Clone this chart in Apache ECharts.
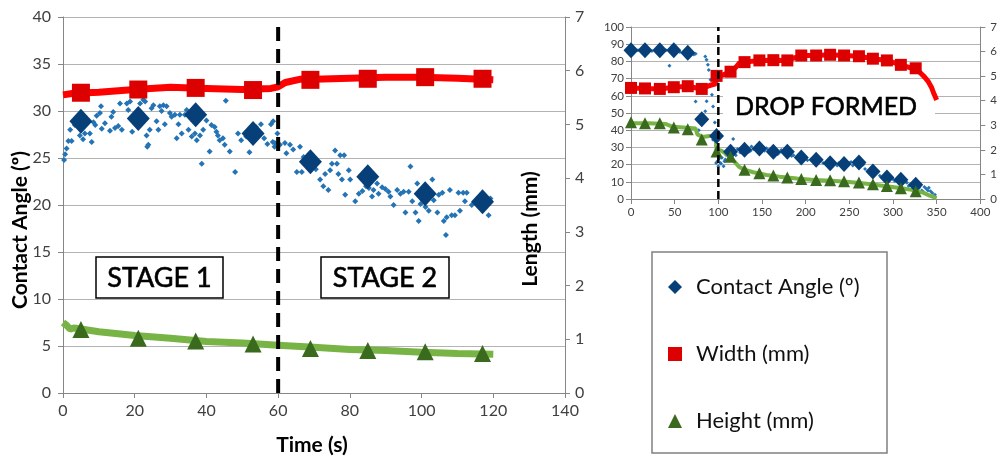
<!DOCTYPE html>
<html><head><meta charset="utf-8">
<script src="https://cdn.jsdelivr.net/npm/echarts@6/dist/echarts.min.js"></script>
<style>html,body{margin:0;padding:0;background:#fff}#c{width:1000px;height:460px}</style>
</head><body><div id="c"></div>
<script>
// ---------- LEFT CHART (stage 1 / stage 2) ----------
const rawTimeL = [0.3,0.6,1,1.5,2,2.4,3.3,4.7,5.6,6.1,7.5,8,8.5,9,9.4,10.3,10.6,10.8,11.7,13.1,13.5,14,14.5,15.4,15.9,16.4,17.8,18.2,18.7,19.3,21.5,22.4,22.9,23.3,23.5,23.8,24.2,24.7,25.2,26.1,26.6,27,27.5,28,28.4,28.9,29.8,30.3,31.2,31.7,32.2,32.6,33.1,34,34.5,35,35.9,36.8,37.3,38.2,38.7,39.1,40,40.9,41.4,42.3,42.8,43.2,43.7,44.6,45.1,45.4,46.5,48,48.8,49.7,51.1,52,53.8,54.7,55.2,56.1,57,58,58.5,58.6,59,59.1,59.8,60.5,61.9,62.3,63.3,64.2,65.2,66.1,66.6,67.1,68,69.5,70.5,71.7,72.6,73.1,74,74.5,75,75.9,76.4,76.8,77.3,77.8,78.4,78.7,79.7,80.1,81.5,82.5,83.5,84.5,85.3,86.2,86.6,87.6,88,89,89.9,90.8,91.3,92.2,93.2,94.1,95,95.5,96.4,96.9,97.4,98.3,98.8,99.2,99.7,101.1,102,103,103.4,104.4,104.8,105.8,106.2,106.8,107,107.9,108.4,109.3,110.3,110.7,111.6,112.1,112.6,114,117.3,118.3,118.7,119.2];
const rawAngleL = [24.8,25.4,26,26.8,28,26.8,28.5,27.4,27,27.6,27.6,26.7,28.8,28.5,29.5,29.8,30.5,28.1,28.7,27.9,29.4,29.9,28.2,28.4,30.8,28,30.8,30.1,31,27.8,30.8,31.2,31,27.4,26.2,26.4,28,30.3,30.6,28.9,28,30.5,30,30.6,28.6,30.5,29.8,29.4,29.6,27.1,28.6,29.6,27.6,29.6,30.1,28,27.3,27.6,26.9,27.4,24.4,28,29,25.7,28.5,28.3,27.8,27.4,26.9,27.1,26.4,31.1,25.7,23.5,27.6,26.9,27.3,25.6,28.3,27.4,28.6,27.1,26.5,28.6,26.7,28.9,26.2,26.6,27.6,26.4,26.6,25.5,26.4,25.9,23.5,26.2,23.5,25.1,24.8,24.2,23.8,22.7,22,23.3,21.6,23.7,24.4,25.8,24.4,23.3,25.3,22.7,25.3,21.1,23.7,22.7,20.4,21.2,21.5,22,21.8,20.9,21.6,22.3,21.2,21.9,21.7,21.4,20.9,20,21.6,21.2,21.4,19.2,21.4,24.1,20.4,19.2,22.3,18.3,20.1,19.8,19.4,22.7,20.5,19.2,21.1,21.3,18.3,16.8,18.7,21.6,18.9,18.9,21.3,19.4,21.3,20.4,21.3,20,20.9,20.4,18.9,20.7];
const markTimeL = [5,21,37,53,69,85,101,117];
const markAngleL = [28.9,29.2,29.6,27.6,24.6,23.0,21.2,20.35];
const markWidthL = [5.59,5.65,5.68,5.64,5.83,5.85,5.88,5.85];
const markHeightL = [1.18,1.02,0.97,0.91,0.83,0.79,0.77,0.735];
const widthLineTimeL = [0,3,10,20,30,40,50,58,60,62,66,70,80,90,100,110,120];
const widthLineL = [5.55,5.58,5.6,5.65,5.69,5.67,5.65,5.67,5.7,5.78,5.84,5.84,5.86,5.88,5.88,5.86,5.83];
const heightLineTimeL = [0,1,2,3,5,10,20,30,40,50,60,70,80,90,100,110,120];
const heightLineL = [1.31,1.26,1.19,1.21,1.19,1.14,1.07,1.02,0.96,0.93,0.89,0.85,0.81,0.79,0.76,0.735,0.72];
const stageBoundaryL = 60;

// ---------- RIGHT CHART (drop formed) ----------
const rawTimeR = [2,5,8,12,20,24,28,37,40,44,45,53,56,60,69,72,74,74,77.6,77.6,83,85,85,86.5,86.6,88,89,91,92.7,92.7,94,94,95,96,97.5,97.5,99,100,101,102.5,103,104,106,107,109,110,112,115,117,118,120,122,125,128,132,135,138,140,143,145,150,153,155,157,160,166,168,170,175,178,182,186,190,192,198,202,206,210,215,220,224,230,232,236,240,245,248,252,256,258,262,264,268,272,275,280,283,285,290,295,297,300,302,305,312,316,318,320,325,328,330,333,336,338,340,343,345,348,
  108,113,126,137,148,152,162,172,184,196,200,217,226,238,250,254,266,278,288,306,314,322,335,341];
const rawAngleR = [86.5,86,86.5,86,86.5,86,86.5,86,86.5,77.5,86,86,85.5,85,84,84,84.5,56.7,45.7,40,45,82.9,51,81,56.8,78,75,69.4,66.4,60.6,53.8,34.5,38,44.5,31,20.9,22,19,23.5,21,20.5,24,19,22,25.6,26,27,30,34.9,27,25.5,29,27,30,29.5,27.5,30.5,29,30,31,29,28,29.5,28.5,27,28,26,27,28,27,26.5,25.5,24.5,25.5,23.5,22.5,23,21.5,22,21,20.5,21.5,20,19.5,20.5,19,20,21.5,22,20.5,19,19.5,17.5,16.5,18,15,16,13.5,12.5,13,12,11.5,10.5,11.8,10.5,9.5,7.5,8.5,6,8,6.5,5,7,6,5,4.5,3.5,2.5,
  23,28.5,29.5,28,28,30,28.5,28.5,25,24.5,23.5,23,21.5,21,21,19.5,20,15.5,12,12.5,10,8,4,6.5];
const markTimeR = [0,16,33,49,65,81,98,114,130,147,163,179,195,212,228,244,261,277,293,309,326];
const markAngleR = [86.5,86.5,86.5,86.5,85,46.3,36.7,27.4,28.6,29.3,27.4,27.4,24.1,22.8,20.8,20.3,21.2,16,12.5,11.2,8.3];
const markWidthR = [4.52,4.50,4.48,4.55,4.59,4.48,5.01,5.18,5.57,5.64,5.65,5.64,5.84,5.84,5.87,5.84,5.81,5.71,5.64,5.46,5.32];
const markHeightR = [3.12,3.08,3.08,2.91,2.84,2.42,1.93,1.72,1.19,1.05,0.96,0.88,0.81,0.77,0.76,0.72,0.67,0.60,0.53,0.44,0.32];
const widthLineTimeR = [0,16,33,49,65,75,81,90,97,98,105,114,120,124,130,147,163,179,187,195,212,228,244,261,277,293,309,322,330,336,340,344,347,350];
const widthLineR = [4.52,4.50,4.48,4.55,4.59,4.52,4.48,4.62,4.69,5.01,5.04,5.18,5.36,5.53,5.57,5.64,5.65,5.64,5.74,5.84,5.84,5.87,5.84,5.81,5.71,5.64,5.46,5.32,5.18,4.97,4.80,4.55,4.27,4.03];
const heightLineTimeR = [0,20,40,48,60,74,76,82,90,95,97,98,104,112,118,124,130,140,155,170,190,210,230,250,270,290,310,325,335,342,350];
const heightLineR = [3.08,3.08,3.05,2.94,2.91,2.87,2.63,2.52,2.56,2.56,2.45,2.03,1.96,1.75,1.54,1.30,1.19,1.09,0.98,0.91,0.83,0.77,0.74,0.69,0.62,0.53,0.44,0.35,0.25,0.14,0.04];
const dropTimeR = 100;

const legendNames = ['Contact Angle (º)', 'Width (mm)', 'Height (mm)'];

// ---------- build ----------
const pairs = (xs, ys) => xs.map((x, i) => [x, ys[i]]);
const FONT = 'Lato, "Open Sans", sans-serif';
const C_DOT = '#2373B5', C_DIA = '#073F78', C_RED = '#FF0000', C_SQ = '#DD0000', C_GRN = '#78B445', C_TRI = '#3A6A1D';
const AX = '#868686', GRID = '#b3b3b3';

function xAx(gi, max, interval, fs, margin) {
  return { type: 'value', gridIndex: gi, min: 0, max: max, interval: interval,
    axisLine: { show: true, lineStyle: { color: AX } },
    axisTick: { show: true, length: 5, lineStyle: { color: AX } },
    axisLabel: { color: '#404040', fontSize: fs, fontFamily: FONT, margin: margin },
    splitLine: { show: false } };
}
function yAx(gi, pos, max, interval, fs, margin, grid) {
  return { type: 'value', gridIndex: gi, position: pos, min: 0, max: max, interval: interval,
    axisLine: { show: true, lineStyle: { color: AX } },
    axisTick: { show: true, length: 5, lineStyle: { color: AX } },
    axisLabel: { color: '#404040', fontSize: fs, fontFamily: FONT, margin: margin },
    splitLine: { show: grid, lineStyle: { color: GRID, width: 1 } } };
}
function sc(name, xi, yi, data, sym, size, color, z) {
  return { type: 'scatter', name, xAxisIndex: xi, yAxisIndex: yi, data, symbol: sym, symbolSize: size,
    itemStyle: { color, opacity: 1 }, z, silent: true, emphasis: { disabled: true } };
}
function ln(name, xi, yi, data, color, width, z, dash) {
  return { type: 'line', name, xAxisIndex: xi, yAxisIndex: yi, data, symbol: 'none', showSymbol: false,
    lineStyle: { color, width, type: dash || 'solid', opacity: 1 }, z, silent: true, emphasis: { disabled: true } };
}
const heavy = { stroke: '#000', lineWidth: 0.6 };

const option = {
  animation: false,
  grid: [
    { left: 63, top: 17, width: 502, height: 376 },
    { left: 631, top: 27, width: 356, height: 172 }
  ],
  xAxis: [ xAx(0, 140, 20, 16, 10), xAx(1, 400, 50, 11.5, 7) ],
  yAxis: [
    yAx(0, 'left', 40, 5, 16, 12, true),
    yAx(0, 'right', 7, 1, 16, 10, false),
    yAx(1, 'left', 100, 10, 11.5, 7, true),
    yAx(1, 'right', 7, 1, 11.5, 10, false)
  ],
  legend: {
    orient: 'vertical', left: 668, top: 276, itemWidth: 14, itemHeight: 14, itemGap: 45, padding: 0,
    textStyle: { fontSize: 22, fontFamily: FONT, color: '#111', padding: [0, 0, 0, 9], lineHeight: 22 },
    selectedMode: false,
    data: [
      { name: legendNames[0], icon: 'diamond', itemStyle: { color: C_DIA } },
      { name: legendNames[1], icon: 'rect', itemStyle: { color: C_SQ } },
      { name: legendNames[2], icon: 'triangle', itemStyle: { color: C_TRI } }
    ]
  },
  series: [
    // left
    sc(legendNames[0], 0, 0, pairs(rawTimeL, rawAngleL), 'diamond', 6, C_DOT, 2),
    sc(legendNames[0], 0, 0, pairs(markTimeL, markAngleL), 'diamond', [23, 25], C_DIA, 4),
    ln(legendNames[1], 0, 1, pairs(widthLineTimeL, widthLineL), C_RED, 7, 3),
    sc(legendNames[1], 0, 1, pairs(markTimeL, markWidthL), 'rect', 18, C_SQ, 4),
    ln(legendNames[2], 0, 1, pairs(heightLineTimeL, heightLineL), C_GRN, 7, 3),
    sc(legendNames[2], 0, 1, pairs(markTimeL, markHeightL), 'triangle', 17, C_TRI, 4),
    ln('stage boundary', 0, 0, [[stageBoundaryL, 0], [stageBoundaryL, 39.4]], '#000', 4, 10, [14, 8]),
    // right
    sc(legendNames[0], 1, 2, pairs(rawTimeR, rawAngleR), 'diamond', 4, C_DOT, 2),
    sc(legendNames[0], 1, 2, pairs(markTimeR, markAngleR), 'diamond', [15, 16], C_DIA, 4),
    ln(legendNames[1], 1, 3, pairs(widthLineTimeR, widthLineR), C_RED, 5, 3),
    sc(legendNames[1], 1, 3, pairs(markTimeR, markWidthR), 'rect', 12, C_SQ, 4),
    ln(legendNames[2], 1, 3, pairs(heightLineTimeR, heightLineR), C_GRN, 4, 3),
    sc(legendNames[2], 1, 3, pairs(markTimeR, markHeightR), 'triangle', 12, C_TRI, 4),
    ln('drop formed', 1, 2, [[dropTimeR, 0], [dropTimeR, 100]], '#000', 2.5, 10, [8, 4])
  ],
  graphic: [
    { type: 'text', x: 20, y: 230, rotation: Math.PI / 2, z: 20,
      style: { text: 'Contact Angle (º)', font: 'bold 21px ' + FONT, fill: '#000', align: 'center', verticalAlign: 'middle' } },
    { type: 'text', x: 530, y: 229, rotation: Math.PI / 2, z: 20,
      style: { text: 'Length (mm)', font: 'bold 21px ' + FONT, fill: '#000', align: 'center', verticalAlign: 'middle' } },
    { type: 'text', x: 312, y: 445, z: 20,
      style: { text: 'Time (s)', font: 'bold 21px ' + FONT, fill: '#000', align: 'center', verticalAlign: 'middle' } },
    { type: 'rect', shape: { x: 96, y: 257, width: 127, height: 41 }, z: 20,
      style: { fill: '#fff', stroke: '#000', lineWidth: 1.5 } },
    { type: 'text', x: 159.5, y: 278, z: 21,
      style: Object.assign({ text: 'STAGE 1', font: '27px ' + FONT, fill: '#000', align: 'center', verticalAlign: 'middle' }, heavy) },
    { type: 'rect', shape: { x: 321, y: 257, width: 128, height: 41 }, z: 20,
      style: { fill: '#fff', stroke: '#000', lineWidth: 1.5 } },
    { type: 'text', x: 385, y: 278, z: 21,
      style: Object.assign({ text: 'STAGE 2', font: '27px ' + FONT, fill: '#000', align: 'center', verticalAlign: 'middle' }, heavy) },
    { type: 'rect', shape: { x: 723, y: 82, width: 212, height: 46 }, z: 1,
      style: { fill: '#fff' } },
    { type: 'text', x: 826, y: 107, z: 21,
      style: Object.assign({ text: 'DROP FORMED', font: '25px ' + FONT, fill: '#000', align: 'center', verticalAlign: 'middle' }, heavy) },
    { type: 'rect', shape: { x: 652, y: 252, width: 235, height: 201 }, z: 0,
      style: { fill: 'none', stroke: '#808080', lineWidth: 1.5 } }
  ]
};
const chart = echarts.init(document.getElementById('c'), null, { renderer: 'canvas' });
chart.setOption(option);
</script></body></html>
